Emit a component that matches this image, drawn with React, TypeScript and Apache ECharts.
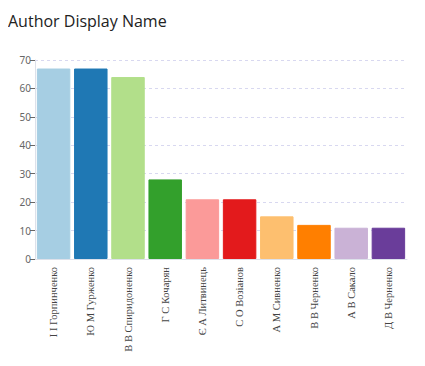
import React, { useEffect, useRef } from "react";
import * as echarts from "echarts";

const categories = [
  "І І Горпинченко",
  "Ю М Гурженко",
  "В В Спиридоненко",
  "Г С Кочарян",
  "Є А Литвинець",
  "С О Возіанов",
  "А М Сивненко",
  "В В Черненко",
  "А В Сакало",
  "Д В Черненко",
];
const values = [67, 67, 64, 28, 21, 21, 15, 12, 11, 11];
const colors = [
  "#a6cee3", "#1f78b4", "#b2df8a", "#33a02c", "#fb9a99",
  "#e31a1c", "#fdbf6f", "#ff7f00", "#cab2d6", "#6a3d9a",
];

export default function App() {
  const ref = useRef<HTMLDivElement>(null);
  useEffect(() => {
    if (!ref.current) return;
    const chart = echarts.init(ref.current, undefined, { renderer: "svg" });
    chart.setOption({
      animation: false,
      title: {
        text: "Author Display Name",
        left: 0,
        top: 0,
        padding: [5, 5, 5, 0],
        textStyle: { fontFamily: "Open Sans", fontSize: 16, fontWeight: "normal", color: "#222" },
      },
      grid: { left: 27, right: 10, top: 52, bottom: 99 },
      xAxis: {
        type: "category",
        data: categories,
        axisLine: { lineStyle: { color: "#dde1ea" } },
        axisTick: { alignWithLabel: true, length: 5, lineStyle: { color: "#666" } },
        axisLabel: {
          rotate: 90,
          interval: 0,
          fontFamily: "Liberation Serif",
          fontSize: 10.5,
          color: "#444",
        },
      },
      yAxis: {
        type: "value",
        min: 0,
        max: 70,
        interval: 10,
        axisLine: { show: true, lineStyle: { color: "#dde1ea" } },
        axisTick: { show: true, length: 5, lineStyle: { color: "#666" } },
        axisLabel: { fontFamily: "Noto Sans", fontSize: 10, color: "#666", margin: 4 },
        splitLine: { lineStyle: { color: "#d8d8f0", type: [3, 3] } },
      },
      series: [
        {
          type: "bar",
          data: values.map((v, i) => ({
            value: v,
            itemStyle: { color: colors[i], borderColor: colors[i], borderWidth: 1, opacity: 1 },
          })),
          barCategoryGap: "10%",
        },
      ],
    });
    return () => chart.dispose();
  }, []);
  return <div ref={ref} style={{ width: 409, height: 350 }} />;
}
